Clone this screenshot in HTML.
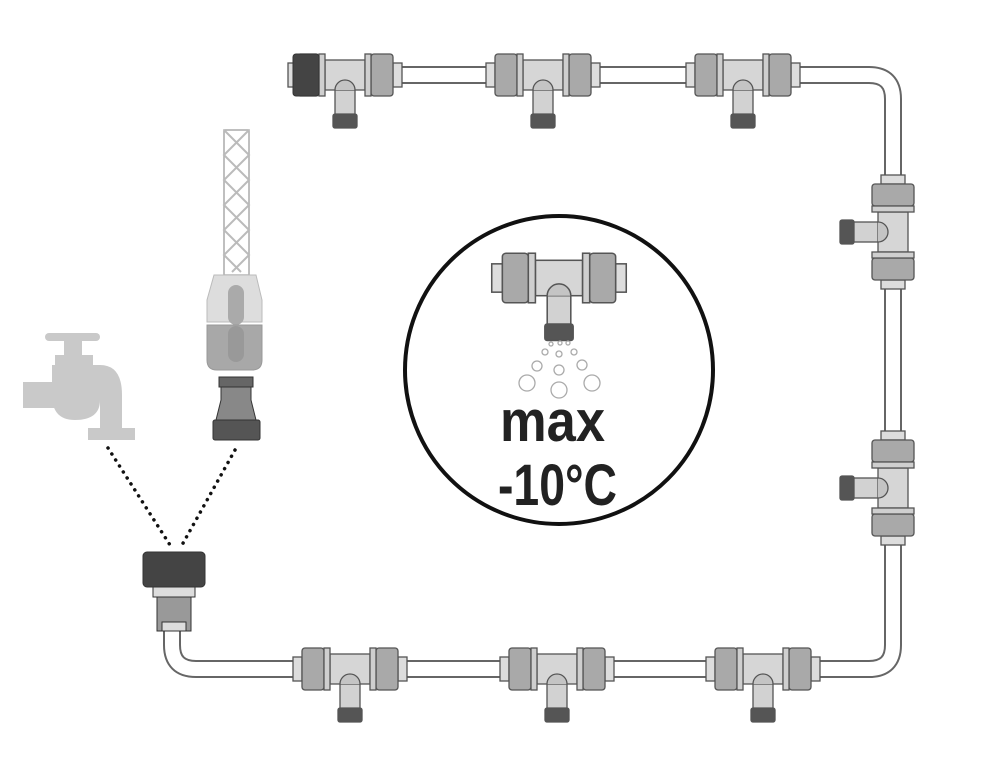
<!DOCTYPE html>
<html><head><style>html,body{margin:0;padding:0;background:#fff}svg{display:block}</style></head>
<body>
<svg width="982" height="768" viewBox="0 0 982 768" xmlns="http://www.w3.org/2000/svg">
<defs>
<g id="tee" stroke="#555" stroke-width="1.3">
  <rect x="-10" y="0" width="20" height="40" fill="#d2d2d2"/>
  <rect x="-12" y="39" width="24" height="14" rx="2" fill="#555"/>
  <rect x="-57" y="-12" width="9" height="24" fill="#ddd"/>
  <rect x="48" y="-12" width="9" height="24" fill="#ddd"/>
  <rect x="-20" y="-15" width="40" height="30" fill="#d6d6d6"/>
  <path d="M-10,15 A10,10 0 0 1 10,15" fill="#c4c4c4"/>
  <rect x="-48" y="-21" width="22" height="42" rx="3" fill="#a9a9a9"/>
  <rect x="-26" y="-21" width="6" height="42" fill="#cfcfcf"/>
  <rect x="26" y="-21" width="22" height="42" rx="3" fill="#a9a9a9"/>
  <rect x="20" y="-21" width="6" height="42" fill="#cfcfcf"/>
</g>
</defs>

<!-- pipe -->
<path d="M172,630 V645 Q172,669 196,669 H869 Q893,669 893,645 V99 Q893,75 869,75 H395" fill="none" stroke="#666" stroke-width="18"/>
<path d="M172,630 V645 Q172,669 196,669 H869 Q893,669 893,645 V99 Q893,75 869,75 H395" fill="none" stroke="#fff" stroke-width="14"/>

<!-- top tees -->
<use href="#tee" x="345" y="75"/>
<rect x="293" y="54" width="26" height="42" rx="3" fill="#444" stroke="#333"/>
<use href="#tee" x="543" y="75"/>
<use href="#tee" x="743" y="75"/>
<!-- right tees -->
<g transform="translate(893,232) rotate(90)"><use href="#tee"/></g>
<g transform="translate(893,488) rotate(90)"><use href="#tee"/></g>
<!-- bottom tees -->
<use href="#tee" x="350" y="669"/>
<use href="#tee" x="557" y="669"/>
<use href="#tee" x="763" y="669"/>

<!-- circle -->
<circle cx="559" cy="370" r="154" fill="#fff" stroke="#111" stroke-width="4"/>
<g transform="translate(559,278) scale(1.18)"><use href="#tee"/></g>
<g fill="none" stroke="#aaa" stroke-width="1.3">
<circle cx="551" cy="344" r="2"/><circle cx="560" cy="343" r="2"/><circle cx="568" cy="343" r="2"/>
<circle cx="545" cy="352" r="3"/><circle cx="559" cy="354" r="3"/><circle cx="574" cy="352" r="3"/>
<circle cx="537" cy="366" r="5"/><circle cx="559" cy="370" r="5"/><circle cx="582" cy="365" r="5"/>
<circle cx="527" cy="383" r="8"/><circle cx="559" cy="390" r="8"/><circle cx="592" cy="383" r="8"/>
</g>
<text x="500" y="441" font-family="Liberation Sans, sans-serif" font-weight="bold" font-size="58" textLength="105" lengthAdjust="spacingAndGlyphs" fill="#222">max</text>
<text x="498" y="505" font-family="Liberation Sans, sans-serif" font-weight="bold" font-size="58" textLength="119" lengthAdjust="spacingAndGlyphs" fill="#222">-10°C</text>

<!-- faucet -->
<g fill="#c9c9c9">
<rect x="45" y="333" width="55" height="8" rx="4"/>
<rect x="64" y="337" width="18" height="20"/>
<rect x="55" y="355" width="38" height="12"/>
<rect x="23" y="382" width="40" height="26"/>
<path d="M52,365 H100 Q122,365 122,395 V430 H100 V400 Q100,420 75,420 Q52,420 52,395 Z"/>
<rect x="88" y="428" width="47" height="12"/>
</g>

<!-- hose -->
<rect x="224" y="130" width="25" height="145" fill="#fff" stroke="#aaa" stroke-width="1.5"/>
<path d="M224,130 L249,155 L224,180 L249,205 L224,230 L249,255 L232,272 M249,130 L224,155 L249,180 L224,205 L249,230 L224,255 L241,272" fill="none" stroke="#bbb" stroke-width="2"/>
<path d="M214,275 H256 L262,300 V322 H207 V300 Z" fill="#ddd" stroke="#bbb"/>
<rect x="228" y="285" width="16" height="40" rx="8" fill="#aaa"/>
<path d="M207,325 H262 V360 Q262,370 252,370 H217 Q207,370 207,360 Z" fill="#a8a8a8" stroke="#999"/>
<rect x="228" y="326" width="16" height="36" rx="8" fill="#999"/>
<g stroke="#333">
<rect x="219" y="377" width="34" height="10" fill="#666"/>
<path d="M221,387 H251 V400 L256,420 H216 L221,400 Z" fill="#888"/>
<rect x="213" y="420" width="47" height="20" rx="2" fill="#555"/>
</g>

<!-- dotted lines -->
<path d="M108,448 L170,545 M235,450 L182,545" stroke="#111" stroke-width="3.5" stroke-dasharray="0.1 7" stroke-linecap="round" fill="none"/>

<!-- bottom fitting -->
<g stroke="#333">
<rect x="157" y="595" width="34" height="36" fill="#999"/>
<rect x="153" y="585" width="42" height="12" fill="#ddd"/>
<rect x="143" y="552" width="62" height="35" rx="4" fill="#444"/>
<rect x="162" y="622" width="24" height="9" fill="#ddd"/>
</g>
</svg>
</body></html>
